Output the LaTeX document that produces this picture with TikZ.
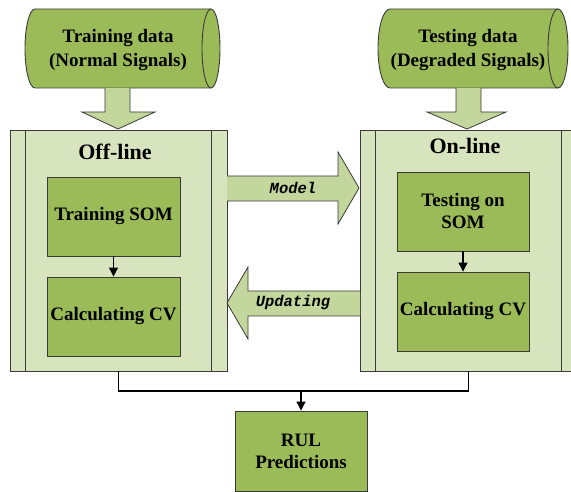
\documentclass[tikz,border=0pt]{standalone}
\usepackage{fontspec}
\setmainfont{Liberation Serif}
\newfontfamily\labelmono{Liberation Mono}
\usetikzlibrary{arrows.meta}
\definecolor{darkg}{HTML}{9BBB59}
\definecolor{lightg}{HTML}{D7E4BD}
\definecolor{arrg}{HTML}{C3D69B}
\definecolor{edge}{HTML}{3A3A3A}
\tikzset{
  stepbox/.style={draw=edge, line width=0.9pt, fill=darkg, minimum width=133pt, minimum height=79pt,
    align=center, font=\bfseries\fontsize{19}{22}\selectfont, inner sep=0pt},
  panel/.style={draw=edge, line width=0.9pt, fill=lightg, minimum width=217pt, minimum height=241pt, inner sep=0pt},
  cyl/.style={draw=edge, line width=0.9pt, fill=darkg},
  blockarrow/.style={draw=edge, line width=0.8pt, fill=arrg},
  ctext/.style={align=center, font=\bfseries\fontsize{19}{24}\selectfont},
  ptitle/.style={font=\bfseries\fontsize{22}{26}\selectfont},
  alabel/.style={font=\labelmono\bfseries\itshape\fontsize{15.5}{18}\selectfont},
  conn/.style={draw=black, line width=1.1pt},
  tip/.style={-{Triangle[length=9pt,width=9pt]}}
}
\begin{document}
\begin{tikzpicture}[x=1pt,y=1pt]
\clip (0,0) rectangle (571,492);
% cylinders
\draw[cyl] (35,483) -- (211,483) arc[start angle=90,end angle=-90,x radius=9,y radius=39.5]
  -- (35,404) arc[start angle=270,end angle=90,x radius=10,y radius=39.5] -- cycle;
\draw[edge, line width=0.9pt] (211,483) arc[start angle=90,end angle=270,x radius=9,y radius=39.5];
\node[ctext] (train) at (118,442) {Training data\\(Normal Signals)};
\draw[cyl] (390,483) -- (558,483) arc[start angle=90,end angle=-90,x radius=10,y radius=39.5]
  -- (390,404) arc[start angle=270,end angle=90,x radius=12,y radius=39.5] -- cycle;
\draw[edge, line width=0.9pt] (558,483) arc[start angle=90,end angle=270,x radius=10,y radius=39.5];
\node[ctext] (test) at (468,442) {Testing data\\(Degraded Signals)};
% down block arrows
\draw[blockarrow] (105,404) -- (105,380) -- (82,380) -- (118,363) -- (155,380) -- (130,380) -- (130,404);
\draw[blockarrow] (456,404) -- (456,380) -- (427,380) -- (467,363) -- (506,380) -- (481,380) -- (481,404);
% panels
\node[panel] (off) at (118.5,241.5) {};
\draw[edge, line width=0.9pt] ([xshift=16pt]off.north west) -- ([xshift=16pt]off.south west)
  ([xshift=-16pt]off.north east) -- ([xshift=-16pt]off.south east);
\node[panel] (on) at (468.5,241.5) {};
\draw[edge, line width=0.9pt] ([xshift=16pt]on.north west) -- ([xshift=16pt]on.south west)
  ([xshift=-16pt]on.north east) -- ([xshift=-16pt]on.south east);
\node[ptitle] (offt) at (115,340) {Off-line};
\node[ptitle] (ont) at (465,346) {On-line};
% step boxes
\node[stepbox] (tsom) at (113.5,275.5) {Training SOM};
\node[stepbox] (cv1) at (113.5,175.5) {Calculating CV};
\node[stepbox, minimum width=132pt] (esom) at (463,280.5) {Testing on\\SOM};
\node[stepbox, minimum width=132pt] (cv2) at (463,180.5) {Calculating CV};
\draw[conn, tip] (tsom) -- (cv1);
\draw[conn, tip] (esom) -- (cv2);
% horizontal block arrows
\draw[blockarrow] (227,316) -- (338,316) -- (338,340) -- (359,304) -- (338,268) -- (338,291) -- (227,291);
\node[alabel] (model) at (293,304) {Model};
\draw[blockarrow] (360,201) -- (248,201) -- (248,225) -- (227,189) -- (248,153) -- (248,176) -- (360,176);
\node[alabel] (upd) at (293,189) {Updating};
% RUL
\node[stepbox, minimum width=132pt, minimum height=80pt] (rul) at (301,41) {RUL\\Predictions};
\coordinate (j) at (301,101);
\draw[conn] (off.south) |- (j) -| (on.south);
\draw[conn, tip] (j) -- (rul.north);
\end{tikzpicture}
\end{document}
